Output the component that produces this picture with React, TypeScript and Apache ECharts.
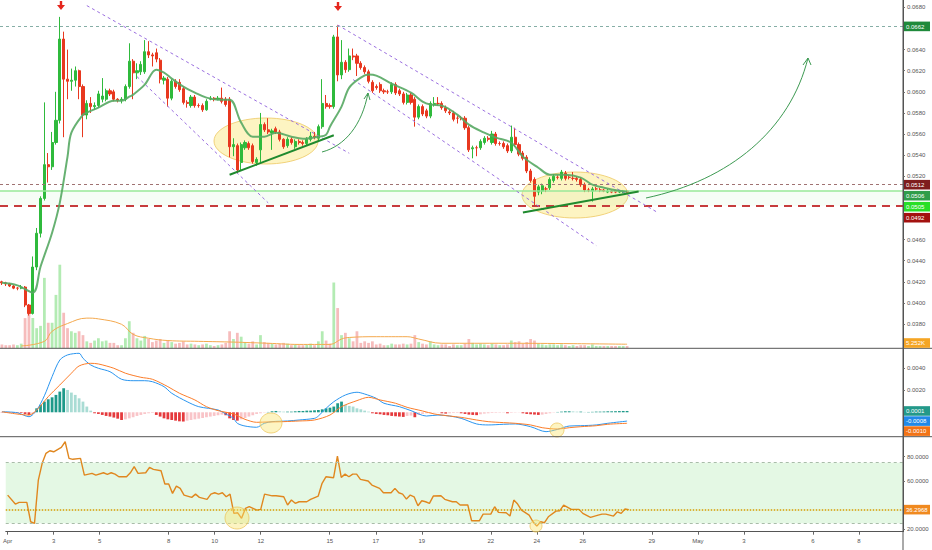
import React, { useEffect, useRef } from "react";
import * as echarts from "echarts";

// ---------- DATA ----------
// 4h candles from Apr 1 00:00: [open, close, low, high]
const candles: number[][] = [
  [0.0420, 0.0419, 0.0417, 0.0421], [0.0419, 0.0418, 0.0416, 0.0420], [0.0418, 0.0416, 0.0415, 0.0419],
  [0.0416, 0.0414, 0.0413, 0.0417], [0.0414, 0.0414, 0.0412, 0.0415], [0.0414, 0.0415, 0.0413, 0.0417],
  [0.0415, 0.0398, 0.0396, 0.0416], [0.0398, 0.0390, 0.0388, 0.0399], [0.0390, 0.0434, 0.0389, 0.0444],
  [0.0434, 0.0466, 0.0431, 0.0471], [0.0466, 0.0499, 0.0462, 0.0501], [0.0499, 0.0531, 0.0497, 0.0590],
  [0.0531, 0.0529, 0.0514, 0.0542], [0.0529, 0.0552, 0.0526, 0.0562], [0.0552, 0.0573, 0.0550, 0.0600],
  [0.0573, 0.0650, 0.0570, 0.0671], [0.0650, 0.0612, 0.0557, 0.0657], [0.0612, 0.0610, 0.0593, 0.0640],
  [0.0610, 0.0611, 0.0601, 0.0622], [0.0611, 0.0620, 0.0605, 0.0624], [0.0620, 0.0605, 0.0593, 0.0621],
  [0.0605, 0.0578, 0.0557, 0.0607], [0.0578, 0.0589, 0.0574, 0.0592], [0.0589, 0.0586, 0.0580, 0.0595],
  [0.0586, 0.0587, 0.0583, 0.0590], [0.0587, 0.0598, 0.0585, 0.0601], [0.0593, 0.0596, 0.0590, 0.0613],
  [0.0593, 0.0601, 0.0591, 0.0603], [0.0601, 0.0598, 0.0596, 0.0603], [0.0600, 0.0593, 0.0591, 0.0602],
  [0.0593, 0.0592, 0.0590, 0.0594], [0.0592, 0.0593, 0.0589, 0.0595], [0.0593, 0.0605, 0.0591, 0.0607],
  [0.0605, 0.0629, 0.0603, 0.0646], [0.0629, 0.0618, 0.0593, 0.0631], [0.0618, 0.0620, 0.0612, 0.0627],
  [0.0619, 0.0626, 0.0616, 0.0629], [0.0619, 0.0638, 0.0617, 0.0649], [0.0638, 0.0635, 0.0632, 0.0648],
  [0.0635, 0.0634, 0.0624, 0.0637], [0.0637, 0.0631, 0.0628, 0.0641], [0.0630, 0.0612, 0.0608, 0.0632],
  [0.0611, 0.0613, 0.0607, 0.0615], [0.0612, 0.0594, 0.0586, 0.0614], [0.0594, 0.0610, 0.0592, 0.0612],
  [0.0610, 0.0605, 0.0603, 0.0612], [0.0609, 0.0602, 0.0600, 0.0612], [0.0603, 0.0590, 0.0588, 0.0605],
  [0.0590, 0.0589, 0.0585, 0.0592], [0.0587, 0.0595, 0.0585, 0.0597], [0.0595, 0.0587, 0.0585, 0.0597],
  [0.0587, 0.0587, 0.0585, 0.0589], [0.0587, 0.0583, 0.0581, 0.0589], [0.0583, 0.0591, 0.0582, 0.0593],
  [0.0593, 0.0594, 0.0592, 0.0596], [0.0594, 0.0593, 0.0591, 0.0595], [0.0593, 0.0594, 0.0592, 0.0596],
  [0.0594, 0.0591, 0.0589, 0.0604], [0.0593, 0.0588, 0.0586, 0.0595], [0.0593, 0.0548, 0.0538, 0.0595],
  [0.0548, 0.0550, 0.0539, 0.0556], [0.0549, 0.0526, 0.0523, 0.0551], [0.0533, 0.0550, 0.0525, 0.0552],
  [0.0547, 0.0552, 0.0545, 0.0554], [0.0551, 0.0547, 0.0545, 0.0553], [0.0549, 0.0534, 0.0532, 0.0551],
  [0.0533, 0.0536, 0.0530, 0.0538], [0.0545, 0.0569, 0.0533, 0.0580], [0.0569, 0.0564, 0.0562, 0.0571],
  [0.0564, 0.0562, 0.0560, 0.0575], [0.0561, 0.0563, 0.0545, 0.0565], [0.0565, 0.0562, 0.0560, 0.0567],
  [0.0562, 0.0555, 0.0553, 0.0564], [0.0555, 0.0548, 0.0546, 0.0556], [0.0549, 0.0555, 0.0547, 0.0557],
  [0.0555, 0.0552, 0.0550, 0.0557], [0.0548, 0.0553, 0.0546, 0.0555], [0.0553, 0.0552, 0.0550, 0.0555],
  [0.0552, 0.0551, 0.0549, 0.0554], [0.0551, 0.0555, 0.0549, 0.0557], [0.0555, 0.0558, 0.0553, 0.0562],
  [0.0558, 0.0557, 0.0555, 0.0562], [0.0556, 0.0567, 0.0554, 0.0569], [0.0567, 0.0589, 0.0565, 0.0612],
  [0.0589, 0.0586, 0.0584, 0.0597], [0.0587, 0.0586, 0.0584, 0.0589], [0.0586, 0.0652, 0.0584, 0.0654],
  [0.0652, 0.0616, 0.0610, 0.0663], [0.0616, 0.0628, 0.0612, 0.0649], [0.0628, 0.0621, 0.0618, 0.0630],
  [0.0621, 0.0634, 0.0619, 0.0641], [0.0634, 0.0633, 0.0630, 0.0641], [0.0634, 0.0627, 0.0615, 0.0636],
  [0.0627, 0.0623, 0.0621, 0.0629], [0.0623, 0.0619, 0.0617, 0.0625], [0.0619, 0.0610, 0.0608, 0.0621],
  [0.0609, 0.0601, 0.0599, 0.0611], [0.0605, 0.0604, 0.0602, 0.0607], [0.0607, 0.0601, 0.0599, 0.0609],
  [0.0601, 0.0600, 0.0598, 0.0603], [0.0600, 0.0600, 0.0598, 0.0602], [0.0600, 0.0607, 0.0598, 0.0609],
  [0.0607, 0.0599, 0.0597, 0.0609], [0.0601, 0.0598, 0.0596, 0.0603], [0.0598, 0.0590, 0.0588, 0.0600],
  [0.0590, 0.0597, 0.0588, 0.0599], [0.0597, 0.0590, 0.0588, 0.0599], [0.0593, 0.0576, 0.0567, 0.0595],
  [0.0576, 0.0586, 0.0574, 0.0588], [0.0586, 0.0579, 0.0577, 0.0588], [0.0582, 0.0577, 0.0575, 0.0584],
  [0.0577, 0.0589, 0.0575, 0.0591], [0.0588, 0.0589, 0.0586, 0.0595], [0.0589, 0.0589, 0.0587, 0.0595],
  [0.0589, 0.0585, 0.0583, 0.0591], [0.0585, 0.0582, 0.0580, 0.0587], [0.0581, 0.0580, 0.0578, 0.0583],
  [0.0580, 0.0574, 0.0572, 0.0582], [0.0575, 0.0575, 0.0570, 0.0577], [0.0575, 0.0575, 0.0573, 0.0577],
  [0.0575, 0.0566, 0.0564, 0.0577], [0.0566, 0.0545, 0.0543, 0.0568], [0.0546, 0.0547, 0.0537, 0.0549],
  [0.0547, 0.0547, 0.0539, 0.0549], [0.0547, 0.0553, 0.0545, 0.0555], [0.0552, 0.0556, 0.0550, 0.0558],
  [0.0556, 0.0555, 0.0553, 0.0558], [0.0552, 0.0560, 0.0550, 0.0563], [0.0560, 0.0551, 0.0549, 0.0562],
  [0.0551, 0.0551, 0.0549, 0.0553], [0.0551, 0.0548, 0.0546, 0.0553], [0.0549, 0.0544, 0.0542, 0.0551],
  [0.0544, 0.0557, 0.0542, 0.0568], [0.0557, 0.0550, 0.0548, 0.0566], [0.0550, 0.0541, 0.0539, 0.0552],
  [0.0542, 0.0537, 0.0535, 0.0544], [0.0538, 0.0525, 0.0523, 0.0540], [0.0525, 0.0516, 0.0514, 0.0527],
  [0.0517, 0.0501, 0.0491, 0.0519], [0.0505, 0.0510, 0.0502, 0.0512], [0.0506, 0.0511, 0.0503, 0.0513],
  [0.0508, 0.0508, 0.0505, 0.0510], [0.0509, 0.0517, 0.0507, 0.0519], [0.0516, 0.0520, 0.0514, 0.0522],
  [0.0519, 0.0519, 0.0517, 0.0521], [0.0518, 0.0524, 0.0516, 0.0526], [0.0523, 0.0518, 0.0516, 0.0525],
  [0.0519, 0.0519, 0.0517, 0.0521], [0.0518, 0.0518, 0.0516, 0.0524], [0.0518, 0.0517, 0.0515, 0.0520],
  [0.0517, 0.0512, 0.0510, 0.0519], [0.0512, 0.0507, 0.0505, 0.0514], [0.0507, 0.0507, 0.0505, 0.0509],
  [0.0506, 0.0508, 0.0496, 0.0510], [0.0508, 0.0508, 0.0506, 0.0510], [0.0507, 0.0507, 0.0505, 0.0509],
  [0.0507, 0.0506, 0.0505, 0.0508], [0.0505, 0.0506, 0.0504, 0.0508], [0.0506, 0.0505, 0.0504, 0.0507],
  [0.0506, 0.0505, 0.0504, 0.0507], [0.0505, 0.0506, 0.0504, 0.0507], [0.0505, 0.0506, 0.0504, 0.0507],
  [0.0506, 0.0505, 0.0504, 0.0507],
];

// volume per candle, thousands
const volumes: number[] = [
  5, 4, 4, 5, 4, 6, 39, 49, 39, 26, 29, 91, 33, 33, 69, 108, 46, 26, 22, 20,
  22, 17, 9, 7, 10, 13, 9, 10, 7, 7, 4, 4, 13, 35, 20, 13, 10, 16, 12, 8,
  10, 12, 7, 10, 8, 6, 7, 9, 5, 6, 5, 4, 5, 6, 4, 3, 4, 5, 7, 22,
  12, 20, 15, 8, 6, 9, 5, 17, 8, 7, 6, 5, 6, 7, 6, 4, 5, 4, 4, 5,
  6, 4, 9, 22, 10, 6, 85, 52, 17, 20, 13, 9, 22, 7, 9, 7, 9, 5, 6, 4,
  4, 6, 5, 5, 6, 5, 6, 17, 8, 6, 5, 9, 5, 4, 5, 5, 3, 5, 4, 4,
  6, 12, 7, 5, 6, 5, 4, 6, 5, 4, 4, 5, 10, 8, 9, 6, 8, 12, 10, 6,
  5, 4, 5, 5, 4, 5, 4, 3, 4, 3, 4, 4, 3, 5, 3, 3, 3, 3, 3, 3,
  3, 3, 3,
];

// green moving average on price: [candle index, price]
const maLine: number[][] = [
  [0, 0.0419], [4, 0.04166], [8, 0.04097], [10, 0.04343], [13, 0.04665], [15, 0.0495], [17, 0.05386],
  [18, 0.05613], [21, 0.05784], [22, 0.05803], [25, 0.0585], [29, 0.05916], [31, 0.05916], [33, 0.05954],
  [34, 0.05973], [37, 0.06068], [40, 0.0621], [42, 0.06182], [44, 0.06125], [47, 0.06049], [50, 0.05992],
  [53, 0.05945], [56, 0.05926], [59, 0.05926], [62, 0.05708], [65, 0.05575], [68, 0.05575], [71, 0.05613],
  [75, 0.05575], [78, 0.05556], [82, 0.05575], [84, 0.05594], [85, 0.0567], [88, 0.0586], [90, 0.0604],
  [93, 0.06135], [95, 0.06163], [97, 0.06154], [101, 0.06078], [106, 0.05992], [109, 0.05907], [111, 0.05879],
  [114, 0.05869], [118, 0.05784], [121, 0.05689], [125, 0.05613], [128, 0.05566], [132, 0.05518], [135, 0.05386],
  [139, 0.05281], [142, 0.05215], [146, 0.05215], [150, 0.05187], [153, 0.0512], [156, 0.05092], [160, 0.05063],
  [162, 0.05054],
];

// volume moving average: [candle index, thousands]
const volMaLine: number[][] = [
  [5, 3], [11, 9], [13, 22], [17, 32], [22, 39], [25, 38], [31, 31], [34, 18], [38, 13], [43, 10],
  [51, 9], [60, 8], [69, 6.5], [77, 5], [85, 5], [88, 12], [90, 14], [97, 15], [105, 15], [108, 12],
  [114, 6.5], [131, 6.5], [148, 6], [162, 5.252],
];

// MACD line, signal line: [candle index, value]
const macdLine: number[][] = [
  [0, 0.00005], [4, -0.00004], [7, -0.0004], [9, 0.0002], [11, 0.0015], [13, 0.00324], [15, 0.00475],
  [17, 0.00521], [20, 0.00536], [21, 0.00491], [23, 0.0043], [25, 0.004], [28, 0.00369], [31, 0.003],
  [34, 0.00287], [37, 0.00287], [39, 0.00278], [42, 0.00233], [44, 0.00173], [48, 0.00096], [51, 0.00051],
  [56, 0.00021], [58, -0.00015], [60, -0.00055], [61, -0.001], [63, -0.00125], [66, -0.00136], [68, -0.001],
  [70, -0.00085], [74, -0.00079], [77, -0.0007], [81, -0.00055], [82, -0.00034], [84, 0.00036], [86, 0.00096],
  [89, 0.00157], [92, 0.00182], [94, 0.00166], [97, 0.00127], [99, 0.00082], [103, 0.00051], [106, 0.00015],
  [110, -0.00034], [113, -0.00025], [116, -0.00034], [119, -0.00055], [123, -0.00106], [126, -0.00115],
  [130, -0.00109], [133, -0.00106], [137, -0.00131], [141, -0.00176], [144, -0.00155], [147, -0.00125],
  [150, -0.00122], [154, -0.00115], [157, -0.001], [162, -0.0008],
];
const signalLine: number[][] = [
  [0, 0.00005], [7, -0.00025], [9, 0.0002], [12, 0.00142], [15, 0.00248], [18, 0.00355], [20, 0.00421],
  [23, 0.00445], [25, 0.00439], [29, 0.004], [32, 0.00355], [36, 0.00318], [39, 0.003], [43, 0.00233],
  [46, 0.00173], [50, 0.00112], [53, 0.00051], [56, 0.00015], [60, -0.00015], [63, -0.00064], [66, -0.00091],
  [69, -0.00088], [73, -0.00085], [77, -0.00079], [81, -0.0007], [85, -0.00025], [88, 0.00051], [92, 0.00106],
  [95, 0.00136], [98, 0.00112], [102, 0.00082], [105, 0.00045], [109, 0.00012], [112, -0.00015], [116, -0.00034],
  [119, -0.00046], [123, -0.0007], [126, -0.00085], [130, -0.00094], [133, -0.001], [137, -0.00115],
  [140, -0.0014], [144, -0.00152], [147, -0.0014], [150, -0.00131], [154, -0.00122], [157, -0.00109],
  [162, -0.001],
];
// MACD histogram per candle
const macdHist: number[] = [
  -0.00002, -0.00003, -0.00003, -0.00004, -0.00005, -0.00006, -0.00015, -0.00025, -0.0001, 0.00036,
  0.00067, 0.00097, 0.00118, 0.00136, 0.00158, 0.00188, 0.00218, 0.00203, 0.00179, 0.00158,
  0.00127, 0.00097, 0.00052, 0.00015, -0.00009, -0.00015, -0.00024, -0.00033, -0.00039, -0.00048,
  -0.00058, -0.0007, -0.00064, -0.00055, -0.00045, -0.00033, -0.00024, -0.00015, -0.00009, -0.00006,
  -0.00024, -0.00039, -0.00055, -0.00064, -0.0007, -0.00076, -0.00082, -0.00084, -0.00076, -0.0007,
  -0.00064, -0.00058, -0.00052, -0.00045, -0.00039, -0.00033, -0.00027, -0.00021, -0.00027, -0.00055,
  -0.0007, -0.00076, -0.00064, -0.00052, -0.00039, -0.00027, -0.00015, -0.00009, -0.00003, 0.00003,
  0.00009, 0.00012, 0.00009, 0.00006, 0.00006, 0.00006, 0.00009, 0.00012, 0.00012, 0.00015,
  0.00015, 0.00018, 0.00021, 0.00027, 0.00036, 0.00042, 0.00052, 0.00082, 0.00097, 0.00067,
  0.00058, 0.00052, 0.00036, 0.00027, 0.00015, 0.00006, -0.00009, -0.00015, -0.00018, -0.00024,
  -0.00027, -0.00033, -0.00036, -0.00039, -0.00042, -0.00033, -0.0003, -0.00045, -0.00024, -0.00015,
  -0.00009, -0.00006, -0.00003, -0.00002, -0.00009, -0.00012, -0.00009, -0.00006, -0.00005, -0.00009,
  -0.00015, -0.00021, -0.00024, -0.00026, -0.00018, -0.00012, -0.00009, -0.00006, -0.00005, -0.00004,
  -0.00003, -0.00009, -0.00004, -0.00003, -0.00002, -0.00009, -0.00015, -0.00018, -0.00021, -0.00024,
  -0.00021, -0.00015, -0.00009, -0.00003, 0.00003, 0.00006, 0.00009, 0.00009, 0.00008, 0.00006,
  0.00006, 0.00003, 0.00003, 0.00004, 0.00006, 0.00006, 0.00007, 0.00009, 0.00009, 0.0001,
  0.00011, 0.00012, 0.00012,
];

// RSI: [candle index, value]
const rsiLine: number[][] = [
  [0, 48.3], [2, 40.9], [3, 42.3], [5, 42.3], [6, 26.3], [7, 25.0], [8, 60.7], [9, 74.5], [10, 82.7],
  [11, 84.9], [12, 84.0], [14, 87.7], [15, 92.3], [16, 78.6], [17, 77.8], [19, 78.6], [20, 64.8], [22, 66.2],
  [23, 64.8], [25, 66.7], [26, 65.4], [27, 66.7], [28, 65.6], [29, 63.4], [31, 63.4], [32, 66.7], [33, 71.7],
  [34, 66.2], [36, 66.7], [37, 71.2], [38, 69.5], [40, 68.4], [41, 57.4], [42, 57.4], [43, 49.7], [44, 55.7],
  [45, 53.8], [46, 48.3], [48, 46.4], [49, 49.1], [50, 46.4], [52, 44.8], [53, 49.1], [54, 50.2], [55, 49.1],
  [56, 50.2], [57, 46.9], [58, 49.1], [59, 33.2], [60, 33.7], [61, 29.1], [62, 37.3], [63, 38.7], [64, 37.3],
  [65, 35.9], [66, 36.5], [67, 49.1], [69, 47.7], [70, 47.7], [72, 46.9], [73, 40.1], [74, 44.2], [75, 41.5],
  [76, 42.8], [78, 42.8], [79, 44.8], [81, 47.5], [82, 58.0], [83, 63.4], [85, 62.6], [86, 80.5], [87, 62.9],
  [88, 65.6], [89, 63.4], [90, 65.6], [91, 65.6], [92, 61.3], [94, 59.9], [95, 56.6], [97, 53.8], [98, 50.2],
  [100, 50.2], [101, 53.8], [102, 50.2], [103, 49.1], [104, 45.0], [105, 48.3], [106, 46.9], [107, 39.5],
  [108, 43.6], [109, 42.8], [110, 41.5], [111, 47.5], [113, 47.7], [114, 44.8], [116, 42.8], [117, 42.8],
  [118, 40.1], [120, 40.1], [121, 27.1], [123, 27.1], [124, 32.6], [126, 32.6], [127, 38.7], [128, 34.0],
  [130, 33.7], [131, 31.0], [132, 44.2], [133, 40.9], [134, 35.9], [136, 31.8], [137, 26.3], [138, 22.7],
  [139, 26.3], [140, 25.5], [141, 30.4], [143, 35.1], [144, 35.4], [145, 40.1], [147, 36.5], [149, 36.5],
  [150, 33.2], [152, 29.9], [154, 31.8], [155, 32.6], [156, 32.6], [158, 31.0], [159, 34.5], [160, 33.2],
  [161, 36.8], [162, 36.2968],
];

// x axis tick labels (day offset from Apr 1, text)
const tickDays = [0, 2, 4, 7, 9, 11, 14, 16, 18, 21, 23, 25, 28, 30, 32, 35, 37];
const tickTexts = ["Apr", "3", "5", "8", "10", "12", "15", "17", "19", "22", "24", "26", "29", "May", "3", "6", "8"];
const priceTicks = [0.038, 0.04, 0.042, 0.044, 0.046, 0.052, 0.054, 0.056, 0.058, 0.06, 0.062, 0.064, 0.068];
const macdTicks = [0.002, 0.004];
const rsiTicks = [20, 60, 80];
const rsiBand = [25, 75];

// horizontal levels
const topLevel = 0.0662;
const upperLevel = 0.0512;
const supportLevel = 0.0506;
const lowerLevel = 0.0492;

// drawn lines: [[index, price], [index, price]]
const channelLines: number[][][] = [
  [[22, 0.06817], [90, 0.05418]],
  [[35, 0.06144], [69, 0.04948]],
  [[87, 0.06633], [170, 0.04855]],
  [[91, 0.06116], [154, 0.04544]],
];
const trendLines: number[][][] = [
  [[59, 0.05214], [86, 0.05588]],
  [[135, 0.04857], [165, 0.05055]],
];

const SLOTS = 234;
const FONT = "Liberation Sans";

export default function App() {
  const ref = useRef<HTMLDivElement>(null);

  useEffect(() => {
    document.body.style.margin = "0";
    const chart = echarts.init(ref.current as HTMLDivElement, null, { renderer: "svg" });

    const monthNames = ["Jan", "Feb", "Mar", "Apr", "May", "Jun"];
    const categories = Array.from({ length: SLOTS }, (_, i) => {
      const d = new Date(Date.UTC(2019, 3, 1) + i * 4 * 3600 * 1000);
      return `${monthNames[d.getUTCMonth()]} ${d.getUTCDate()} ${String(d.getUTCHours()).padStart(2, "0")}:00`;
    });
    const tickMap = new Map<number, string>();
    tickDays.forEach((d, k) => tickMap.set(d * 6, tickTexts[k]));
    const showTick = (index: number) => tickMap.has(index);

    const UP = "#2fba3c";
    const DOWN = "#e8381f";

    const xBase = (gridIndex: number, show: boolean) => ({
      type: "category",
      gridIndex,
      data: categories,
      boundaryGap: true,
      axisLine: { show, lineStyle: { color: "#555" } },
      axisTick: { show, interval: showTick, alignWithLabel: true, length: 3, lineStyle: { color: "#666" } },
      axisLabel: {
        show,
        interval: showTick,
        formatter: (_v: string, index: number) => tickMap.get(index) ?? "",
        color: "#555",
        fontSize: 6,
        fontFamily: FONT,
        margin: 6,
        alignMinLabel: "center",
      },
      splitLine: { show: false },
    });

    const yLabel = (digits: number) => ({
      color: "#555",
      fontSize: 6,
      fontFamily: FONT,
      margin: 4,
      formatter: (v: number) => v.toFixed(digits),
    });

    const purple = { color: "#9b6fe0", width: 1, type: [3, 3] };
    const green = { color: "#1f8a2e", width: 2, type: "solid" };

    const option: any = {
      animation: false,
      backgroundColor: "#ffffff",
      grid: [
        { left: 0, top: 0, width: 903, height: 348.3 },
        { left: 0, top: 349, width: 903, height: 87.5 },
        { left: 0, top: 437, width: 903, height: 94.7 },
      ],
      xAxis: [xBase(0, false), xBase(1, false), xBase(2, true)],
      yAxis: [
        {
          type: "value", gridIndex: 0, position: "right", min: 0.0357, max: 0.0687, scale: true,
          axisLine: { show: true, lineStyle: { color: "#555" } },
          axisTick: { show: true, length: 2, customValues: priceTicks, lineStyle: { color: "#777" } },
          axisLabel: { ...yLabel(4), customValues: priceTicks },
          splitLine: { show: false },
        },
        {
          type: "value", gridIndex: 1, position: "right", min: -0.0022, max: 0.00575,
          axisLine: { show: true, lineStyle: { color: "#555" } },
          axisTick: { show: true, length: 2, customValues: macdTicks, lineStyle: { color: "#777" } },
          axisLabel: { ...yLabel(4), customValues: macdTicks },
          splitLine: { show: false },
        },
        {
          type: "value", gridIndex: 2, position: "right", min: 18.1, max: 96.2,
          axisLine: { show: true, lineStyle: { color: "#555" } },
          axisTick: { show: true, length: 2, customValues: rsiTicks, lineStyle: { color: "#777" } },
          axisLabel: { ...yLabel(4), customValues: rsiTicks },
          splitLine: { show: false },
        },
        {
          type: "value", gridIndex: 0, position: "right", min: 0, max: 450, show: false,
          splitLine: { show: false },
        },
      ],
      series: [
        {
          name: "Volume", type: "bar", xAxisIndex: 0, yAxisIndex: 3, data: volumes, barWidth: "72%", z: 1,
          itemStyle: {
            color: (p: any) => (candles[p.dataIndex][1] >= candles[p.dataIndex][0] ? "#b3ebb3" : "#f6bcbc"),
          },
        },
        {
          name: "Vol MA", type: "line", xAxisIndex: 0, yAxisIndex: 3, data: volMaLine, smooth: 0.4,
          showSymbol: false, lineStyle: { color: "#f4a94e", width: 1 }, z: 2,
        },
        {
          name: "Price", type: "candlestick", xAxisIndex: 0, yAxisIndex: 0, data: candles, barWidth: "68%", z: 4,
          itemStyle: { color: UP, color0: DOWN, borderColor: UP, borderColor0: DOWN, borderColorDoji: DOWN, borderWidth: 1 },
          markArea: {
            silent: true,
            itemStyle: { color: "rgba(190, 240, 190, 0.14)" },
            data: [[{ yAxis: lowerLevel }, { yAxis: supportLevel }]],
          },
          markLine: {
            silent: true,
            precision: 8,
            symbol: ["none", "none"],
            label: { show: false },
            data: [
              { yAxis: topLevel, lineStyle: { color: "#86aea6", width: 1, type: [3, 3] } },
              { yAxis: upperLevel, lineStyle: { color: "#a07272", width: 1, type: [3, 3] } },
              { yAxis: supportLevel, lineStyle: { color: "#98e898", width: 1.5, type: "solid" } },
              { yAxis: lowerLevel, lineStyle: { color: "#c63c3c", width: 2, type: [8, 6] } },
              ...channelLines.map((l) => [{ coord: l[0], lineStyle: purple }, { coord: l[1] }]),
              ...trendLines.map((l) => [{ coord: l[0], lineStyle: green }, { coord: l[1] }]),
            ],
          },
        },
        {
          name: "MA", type: "line", xAxisIndex: 0, yAxisIndex: 0, data: maLine, smooth: 0.35,
          showSymbol: false, lineStyle: { color: "#56a863", width: 2, opacity: 0.9 }, z: 5,
        },
        {
          name: "Histogram", type: "bar", xAxisIndex: 1, yAxisIndex: 1, data: macdHist, barWidth: "72%",
          itemStyle: {
            color: (p: any) => {
              const v = macdHist[p.dataIndex];
              const prev = p.dataIndex > 0 ? macdHist[p.dataIndex - 1] : v;
              if (v >= 0) return v >= prev ? "#1f9a8a" : "#a9dcd4";
              return v <= prev ? "#e5393c" : "#f9c4c8";
            },
          },
        },
        {
          name: "MACD", type: "line", xAxisIndex: 1, yAxisIndex: 1, data: macdLine, smooth: 0.3,
          showSymbol: false, lineStyle: { color: "#2a95ef", width: 1 }, z: 4,
        },
        {
          name: "Signal", type: "line", xAxisIndex: 1, yAxisIndex: 1, data: signalLine, smooth: 0.3,
          showSymbol: false, lineStyle: { color: "#fb7d2a", width: 1 }, z: 4,
        },
        {
          name: "RSI", type: "line", xAxisIndex: 2, yAxisIndex: 2, data: rsiLine,
          showSymbol: false, lineStyle: { color: "#e0871f", width: 1.4 }, z: 4,
          markArea: {
            silent: true,
            itemStyle: { color: "rgba(205, 242, 205, 0.55)" },
            data: [[{ yAxis: rsiBand[0] }, { yAxis: rsiBand[1] }]],
          },
          markLine: {
            silent: true,
            precision: 8,
            symbol: ["none", "none"],
            label: { show: false },
            data: [
              { yAxis: rsiBand[1], lineStyle: { color: "#a9bca9", width: 1, type: [3, 3] } },
              { yAxis: rsiBand[0], lineStyle: { color: "#a9bca9", width: 1, type: [3, 3] } },
              { yAxis: rsiLine[rsiLine.length - 1][1], lineStyle: { color: "#d59c00", width: 1.5, type: "dotted" } },
            ],
          },
        },
      ],
    };

    chart.setOption(option);

    // value tags on the right price scale
    const toY = (axis: number, v: number) => chart.convertToPixel({ yAxisIndex: axis }, v) as number;
    const stack = (items: any[], gap: number) => {
      items.sort((a, b) => a.y - b.y);
      for (let k = 1; k < items.length; k++) {
        if (items[k].y < items[k - 1].y + gap) items[k].y = items[k - 1].y + gap;
      }
      return items;
    };
    const lastClose = candles[candles.length - 1][1];
    const lastVolMa = volMaLine[volMaLine.length - 1][1];
    const tagItems = [
      ...stack(
        [
          { y: toY(0, topLevel), text: topLevel.toFixed(4), bg: "#1f8a3b" },
          { y: toY(0, upperLevel), text: upperLevel.toFixed(4), bg: "#7e1d1d" },
          { y: toY(0, supportLevel), text: supportLevel.toFixed(4), bg: "#2f9d4a" },
          { y: toY(0, lastClose), text: lastClose.toFixed(4), bg: "#27df27" },
          { y: toY(0, lowerLevel), text: lowerLevel.toFixed(4), bg: "#a3110f" },
        ],
        11
      ),
      { y: Math.min(toY(3, lastVolMa), 343), text: `${lastVolMa.toFixed(3)}K`, bg: "#f5a524" },
      ...stack(
        [
          { y: toY(1, macdHist[macdHist.length - 1]), text: macdHist[macdHist.length - 1].toFixed(4), bg: "#23998a" },
          { y: toY(1, macdLine[macdLine.length - 1][1]), text: macdLine[macdLine.length - 1][1].toFixed(4), bg: "#2189e8" },
          { y: toY(1, signalLine[signalLine.length - 1][1]), text: signalLine[signalLine.length - 1][1].toFixed(4), bg: "#f27316" },
        ],
        10
      ),
      { y: toY(2, rsiLine[rsiLine.length - 1][1]), text: rsiLine[rsiLine.length - 1][1].toFixed(4), bg: "#f0891f" },
    ];
    const tags = tagItems.map((t) => ({
      type: "group",
      z: 100,
      children: [
        { type: "rect", z: 100, shape: { x: 904, y: t.y - 4.8, width: 26, height: 9.6 }, style: { fill: t.bg } },
        {
          type: "text", z: 101,
          style: { text: t.text, x: 906, y: t.y + 0.3, fill: "#ffffff", font: `6px "${FONT}"`, align: "left", verticalAlign: "middle" },
        },
      ],
    }));

    const hl = { fill: "rgba(250, 228, 110, 0.42)", stroke: "rgba(236, 196, 90, 0.75)", lineWidth: 1 };
    const curve = { stroke: "#3d9a52", lineWidth: 1, fill: null };
    const arrow = (cx: number, top: number) => [
      [cx - 1.2, top], [cx + 1.2, top], [cx + 1.2, top + 4], [cx + 4, top + 4], [cx, top + 9], [cx - 4, top + 4], [cx - 1.2, top + 4],
    ];

    const annotations: any[] = [
      { type: "ellipse", silent: true, shape: { cx: 266, cy: 141, rx: 52, ry: 23 }, style: hl },
      { type: "ellipse", silent: true, shape: { cx: 575, cy: 195, rx: 53, ry: 23 }, style: hl },
      { type: "ellipse", silent: true, z: 10, shape: { cx: 271, cy: 423, rx: 11, ry: 10 }, style: hl },
      { type: "ellipse", silent: true, z: 10, shape: { cx: 557, cy: 430, rx: 7, ry: 7 }, style: hl },
      { type: "ellipse", silent: true, z: 10, shape: { cx: 237, cy: 518, rx: 12, ry: 11 }, style: hl },
      { type: "ellipse", silent: true, z: 10, shape: { cx: 536, cy: 526, rx: 6, ry: 6 }, style: hl },
      { type: "bezierCurve", z: 20, shape: { x1: 646, y1: 198, cpx1: 730, cpy1: 180, cpx2: 790, cpy2: 130, x2: 808, y2: 58 }, style: curve },
      { type: "polyline", z: 20, shape: { points: [[803, 65], [808, 58], [811, 65]] }, style: curve },
      { type: "bezierCurve", z: 20, shape: { x1: 322, y1: 152, cpx1: 345, cpy1: 146, cpx2: 362, cpy2: 125, x2: 368, y2: 93 }, style: curve },
      { type: "polyline", z: 20, shape: { points: [[364, 99], [368, 93], [370, 100]] }, style: curve },
      { type: "polygon", z: 20, shape: { points: arrow(61, 1) }, style: { fill: "#e5261d" } },
      { type: "polygon", z: 20, shape: { points: arrow(338, 2) }, style: { fill: "#e5261d" } },
      { type: "line", z: 30, shape: { x1: 0, y1: 348.3, x2: 932, y2: 348.3 }, style: { stroke: "#555", lineWidth: 1 } },
      { type: "line", z: 30, shape: { x1: 0, y1: 436.7, x2: 932, y2: 436.7 }, style: { stroke: "#555", lineWidth: 1 } },
      { type: "line", z: 30, shape: { x1: 903, y1: 0, x2: 903, y2: 550 }, style: { stroke: "#555", lineWidth: 1 } },
    ];

    chart.setOption({ graphic: [...annotations, ...tags] });

    return () => chart.dispose();
  }, []);

  return <div ref={ref} style={{ width: 932, height: 550 }} />;
}
